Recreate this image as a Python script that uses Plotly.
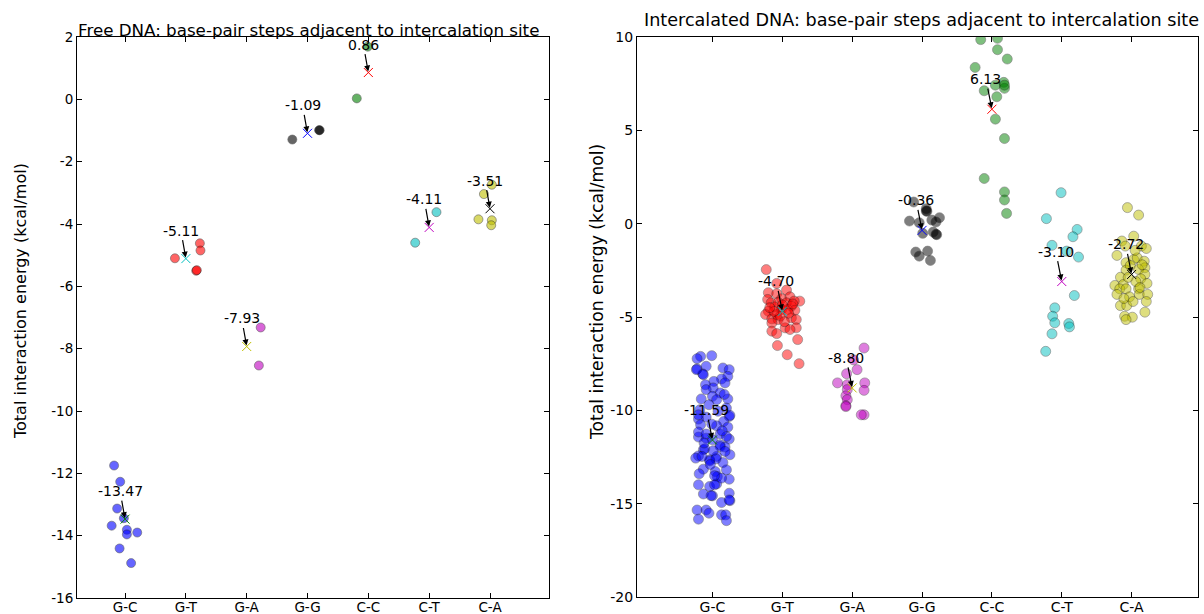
import plotly.graph_objects as go

CATEGORIES = ["G-C", "G-T", "G-A", "G-G", "C-C", "C-T", "C-A"]
FREE_MEANS = [-13.47, -5.11, -7.93, -1.09, 0.86, -4.11, -3.51]
INTER_MEANS = [-11.59, -4.70, -8.80, -0.36, 6.13, -3.10, -2.72]

# ---- Free DNA (left panel): energies and horizontal jitter (category units)
free_gc = [-11.75, -12.27, -13.13, -13.44, -13.68, -13.81, -13.96, -13.90, -14.41, -14.88]
free_gc_jit = [-0.18, -0.08, -0.13, -0.02, -0.22, 0.03, 0.03, 0.20, -0.09, 0.10]
free_gt = [-4.62, -4.85, -5.10, -5.50, -5.48]
free_gt_jit = [0.23, 0.24, -0.18, 0.17, 0.18]
free_ga = [-7.32, -8.54]
free_ga_jit = [0.23, 0.20]
free_gg = [-1.29, -0.99, -0.99]
free_gg_jit = [-0.25, 0.20, 0.19]
free_cc = [1.69, 0.03]
free_cc_jit = [-0.01, -0.19]
free_ct = [-3.62, -4.60]
free_ct_jit = [0.12, -0.23]
free_ca = [-2.74, -3.04, -3.85, -3.88, -4.04]
free_ca_jit = [0.03, -0.10, -0.19, 0.03, 0.02]

# ---- Intercalated DNA (right panel)
inter_gc = [-7.11, -7.23, -7.07, -7.78, -7.64, -8.05, -7.73, -7.82, -8.18, -8.32,
            -8.45, -8.63, -8.53, -8.80, -8.89, -9.07, -9.25, -9.39, -9.39, -9.43,
            -9.97, -10.33, -10.36, -10.47, -10.60, -10.77, -10.83, -10.90, -11.43, -11.49,
            -11.54, -11.58, -11.85, -11.97, -12.11, -12.44, -12.56, -12.47, -12.65, -12.80,
            -12.38, -13.15, -13.28, -13.19, -13.55, -13.69, -13.99, -14.08, -13.94, -14.48,
            -14.58, -14.44, -14.94, -14.84, -15.34, -15.34, -15.51, -15.83, -15.60, -15.60,
            -15.91,
            -7.82, -8.09, -9.88, -10.27, -10.24, -10.74, -11.16, -11.27, -11.27, -11.40,
            -11.94, -12.06, -12.17, -12.71, -12.60, -12.47, -13.99, -14.57, -13.63, -13.50,
            -14.80, -12.90, -10.05, -9.70, -9.15, -11.75, -11.10, -13.40, -12.20]
inter_gc_jit = [-0.17, -0.22, -0.01, -0.22, -0.09, -0.14, 0.15, 0.24, 0.22, 0.13,
                0.02, -0.10, 0.18, 0.01, -0.09, 0.11, 0.00, -0.16, 0.22, 0.06,
                -0.18, 0.24, -0.09, -0.20, 0.16, -0.17, 0.06, 0.22, -0.20, -0.09,
                0.24, 0.00, 0.11, 0.18, -0.13, -0.20, -0.24, 0.06, -0.04, 0.15,
                0.25, -0.13, 0.04, 0.20, 0.07, 0.24, -0.20, -0.04, 0.06, -0.13,
                0.00, 0.24, 0.13, 0.25, -0.22, -0.09, -0.05, -0.20, 0.13, 0.19,
                0.20,
                -0.23, -0.13, 0.20, 0.25, -0.20, -0.01, -0.20, -0.09, 0.11, 0.20,
                0.11, -0.11, 0.01, -0.04, 0.05, -0.15, 0.03, -0.02, 0.13, 0.03,
                0.24, -0.03, 0.08, -0.05, 0.17, -0.12, 0.14, -0.19, 0.18]
inter_gt = [-2.46, -3.20, -3.56, -3.70, -3.75, -4.06, -4.02, -3.92, -4.24, -4.21,
            -4.24, -4.15, -4.15, -4.46, -4.42, -4.69, -4.60, -4.60, -4.64, -4.87,
            -4.87, -5.10, -5.14, -5.05, -5.14, -5.32, -5.58, -5.58, -5.76, -5.89,
            -5.67, -6.53, -6.21, -7.02, -7.50, -4.35, -4.80, -4.95, -4.30, -4.70,
            -5.25, -4.50]
inter_gt_jit = [-0.23, -0.08, 0.06, -0.20, -0.08, -0.21, -0.01, 0.11, -0.16, -0.06,
                0.06, 0.25, 0.17, -0.11, 0.13, -0.20, -0.01, 0.08, 0.18, -0.24,
                -0.08, -0.15, -0.06, 0.13, 0.20, -0.15, 0.04, 0.20, -0.15, -0.08,
                0.11, -0.07, 0.22, 0.07, 0.24, 0.00, 0.09, -0.03, 0.15, -0.12,
                0.03, -0.18]
inter_ga = [-6.66, -7.82, -8.04, -8.53, -8.63, -8.53, -8.89, -8.93, -9.22, -9.43,
            -9.75, -9.80, -10.24, -10.24, -7.30]
inter_ga_jit = [0.17, 0.07, -0.08, -0.21, -0.07, 0.18, -0.07, 0.17, -0.09, -0.07,
                -0.09, -0.09, 0.17, 0.13, 0.02]
inter_gg = [1.16, 0.80, 0.68, 0.66, 0.14, 0.05, 0.19, 0.32, 0.09, -0.52,
            -0.45, -0.57, -0.59, -1.52, -1.74, -1.47, -1.97]
inter_gg_jit = [-0.12, 0.06, 0.06, 0.07, -0.18, -0.04, 0.14, 0.25, 0.20, 0.01,
                0.16, 0.20, 0.21, -0.09, -0.04, 0.08, 0.12]
inter_cc = [9.86, 9.93, 9.32, 8.82, 8.37, 7.57, 7.25, 7.42, 7.12, 6.80,
            5.60, 4.56, 2.42, 1.70, 1.27, 0.55, 7.42]
inter_cc_jit = [-0.16, 0.08, 0.08, 0.22, -0.24, 0.17, 0.18, 0.05, -0.11, 0.07,
                0.05, 0.18, -0.11, 0.18, 0.18, 0.21, 0.18]
inter_ct = [1.66, 0.27, -0.31, -0.70, -1.16, -1.47, -1.79, -3.85, -4.51, -4.96,
            -5.31, -5.35, -5.53, -5.90, -6.84]
inter_ct_jit = [-0.01, -0.22, 0.22, 0.16, -0.14, 0.07, 0.24, 0.18, -0.10, -0.13,
                -0.10, 0.10, 0.11, -0.14, -0.23]
inter_ca = [0.86, 0.46, -0.67, -0.93, -1.20, -1.20, -1.33, -1.70, -1.92, -1.83,
            -2.01, -2.09, -2.36, -2.45, -2.49, -2.72, -2.87, -2.95, -3.31, -3.26,
            -3.49, -3.49, -3.49, -3.20, -3.79, -3.79, -3.92, -4.39, -4.39, -4.74,
            -4.96, -5.01, -5.14, -1.43, -2.24, -3.10, -2.88, -3.42, -3.79, -4.01,
            -2.20, -4.17, -4.17]
inter_ca_jit = [-0.06, 0.10, 0.03, -0.14, -0.09, 0.14, 0.21, -0.21, 0.03, 0.08,
                0.18, -0.08, 0.19, 0.10, -0.08, 0.19, -0.16, 0.13, -0.24, -0.12,
                -0.17, -0.08, 0.10, 0.22, 0.11, 0.23, -0.03, -0.16, -0.07, 0.19,
                -0.10, 0.01, -0.08, 0.05, -0.02, 0.06, -0.05, 0.12, -0.21, -0.11,
                0.15, 0.02, 0.21]

FREE_SERIES = [(free_gc, free_gc_jit), (free_gt, free_gt_jit), (free_ga, free_ga_jit),
               (free_gg, free_gg_jit), (free_cc, free_cc_jit), (free_ct, free_ct_jit),
               (free_ca, free_ca_jit)]
INTER_SERIES = [(inter_gc, inter_gc_jit), (inter_gt, inter_gt_jit), (inter_ga, inter_ga_jit),
                (inter_gg, inter_gg_jit), (inter_cc, inter_cc_jit), (inter_ct, inter_ct_jit),
                (inter_ca, inter_ca_jit)]

POINT_COLORS = ["#0000ff", "#ff0000", "#bf00bf", "#000000", "#008000", "#00bfbf", "#bfbf00"]
MEAN_COLORS = ["#008000", "#00bfbf", "#bfbf00", "#0000ff", "#ff0000", "#bf00bf", "#000000"]

FONT = "DejaVu Sans"
W, H = 1204, 614

fig = go.Figure()
annotations = []


def add_panel(series, means, xa, ya, opacity, size, ax_off, ay_off):
    for i, (vals, jit) in enumerate(series):
        fig.add_trace(go.Scatter(
            x=[i + j for j in jit], y=vals, mode="markers", xaxis=xa, yaxis=ya,
            marker=dict(color=POINT_COLORS[i], size=size, opacity=opacity,
                        line=dict(color="black", width=0.6)),
            showlegend=False, hoverinfo="y"))
    for i, m in enumerate(means):
        fig.add_trace(go.Scatter(
            x=[i], y=[m], mode="markers", xaxis=xa, yaxis=ya,
            marker=dict(symbol="x-thin", size=9, color=MEAN_COLORS[i],
                        line=dict(color=MEAN_COLORS[i], width=1)),
            showlegend=False, hoverinfo="y"))
        annotations.append(dict(
            x=i, y=m, xref=xa, yref=ya, text=f"{m:.2f}", showarrow=True,
            arrowhead=2, arrowsize=1, arrowwidth=1.2, arrowcolor="black",
            ax=ax_off, ay=ay_off, standoff=1,
            font=dict(family=FONT, size=14, color="black")))


add_panel(FREE_SERIES, FREE_MEANS, "x", "y", 0.6, 9, -5, -28)
add_panel(INTER_SERIES, INTER_MEANS, "x2", "y2", 0.5, 10, -6, -30)

# panel geometry in pixels
L_X0, L_X1, L_Y0, L_Y1 = 77, 549, 37, 598
R_X0, R_X1, R_Y0, R_Y1 = 637, 1198, 37, 597

free_yticks = list(range(-16, 3, 2))
inter_yticks = list(range(-20, 11, 5))

common_axis = dict(showline=True, linecolor="black", linewidth=1, mirror="allticks",
                   ticks="inside", ticklen=5, tickcolor="black", showgrid=False,
                   zeroline=False, automargin=False)
left_font = dict(family=FONT, size=13.5, color="black")
right_font = dict(family=FONT, size=14, color="black")

fig.update_layout(
    width=W, height=H, margin=dict(l=0, r=0, t=0, b=0, pad=0, autoexpand=False),
    paper_bgcolor="white", plot_bgcolor="white",
    font=dict(family=FONT, color="black"),
    xaxis=dict(domain=[L_X0 / W, L_X1 / W], range=[-0.79, 6.97], anchor="y",
               tickvals=list(range(7)), ticktext=CATEGORIES, tickfont=left_font,
               ticklabelstandoff=-3, **common_axis),
    yaxis=dict(domain=[1 - L_Y1 / H, 1 - L_Y0 / H], range=[-16, 2], anchor="x",
               tickvals=free_yticks, ticktext=[str(v) for v in free_yticks],
               tickfont=left_font, **common_axis),
    xaxis2=dict(domain=[R_X0 / W, R_X1 / W], range=[-1.08, 6.95], anchor="y2",
                tickvals=list(range(7)), ticktext=CATEGORIES, tickfont=right_font,
                ticklabelstandoff=-3, **common_axis),
    yaxis2=dict(domain=[1 - R_Y1 / H, 1 - R_Y0 / H], range=[-20, 10], anchor="x2",
                tickvals=inter_yticks, ticktext=[str(v) for v in inter_yticks],
                tickfont=right_font, **common_axis),
)

annotations += [
    dict(text="Free DNA: base-pair steps adjacent to intercalation site",
         xref="paper", yref="paper", x=308 / W, y=1 - 30 / H,
         xanchor="center", yanchor="middle", showarrow=False,
         font=dict(family=FONT, size=16.7, color="black")),
    dict(text="Intercalated DNA: base-pair steps adjacent to intercalation site",
         xref="paper", yref="paper", x=921 / W, y=1 - 20 / H,
         xanchor="center", yanchor="middle", showarrow=False,
         font=dict(family=FONT, size=17.6, color="black")),
    dict(text="Total interaction energy (kcal/mol)", textangle=-90,
         xref="paper", yref="paper", x=20 / W, y=1 - 301 / H,
         xanchor="center", yanchor="middle", showarrow=False,
         font=dict(family=FONT, size=16, color="black")),
    dict(text="Total interaction energy (kcal/mol)", textangle=-90,
         xref="paper", yref="paper", x=597 / W, y=1 - 292 / H,
         xanchor="center", yanchor="middle", showarrow=False,
         font=dict(family=FONT, size=17.2, color="black")),
]
fig.update_layout(annotations=annotations)

fig.write_html("out.html")
